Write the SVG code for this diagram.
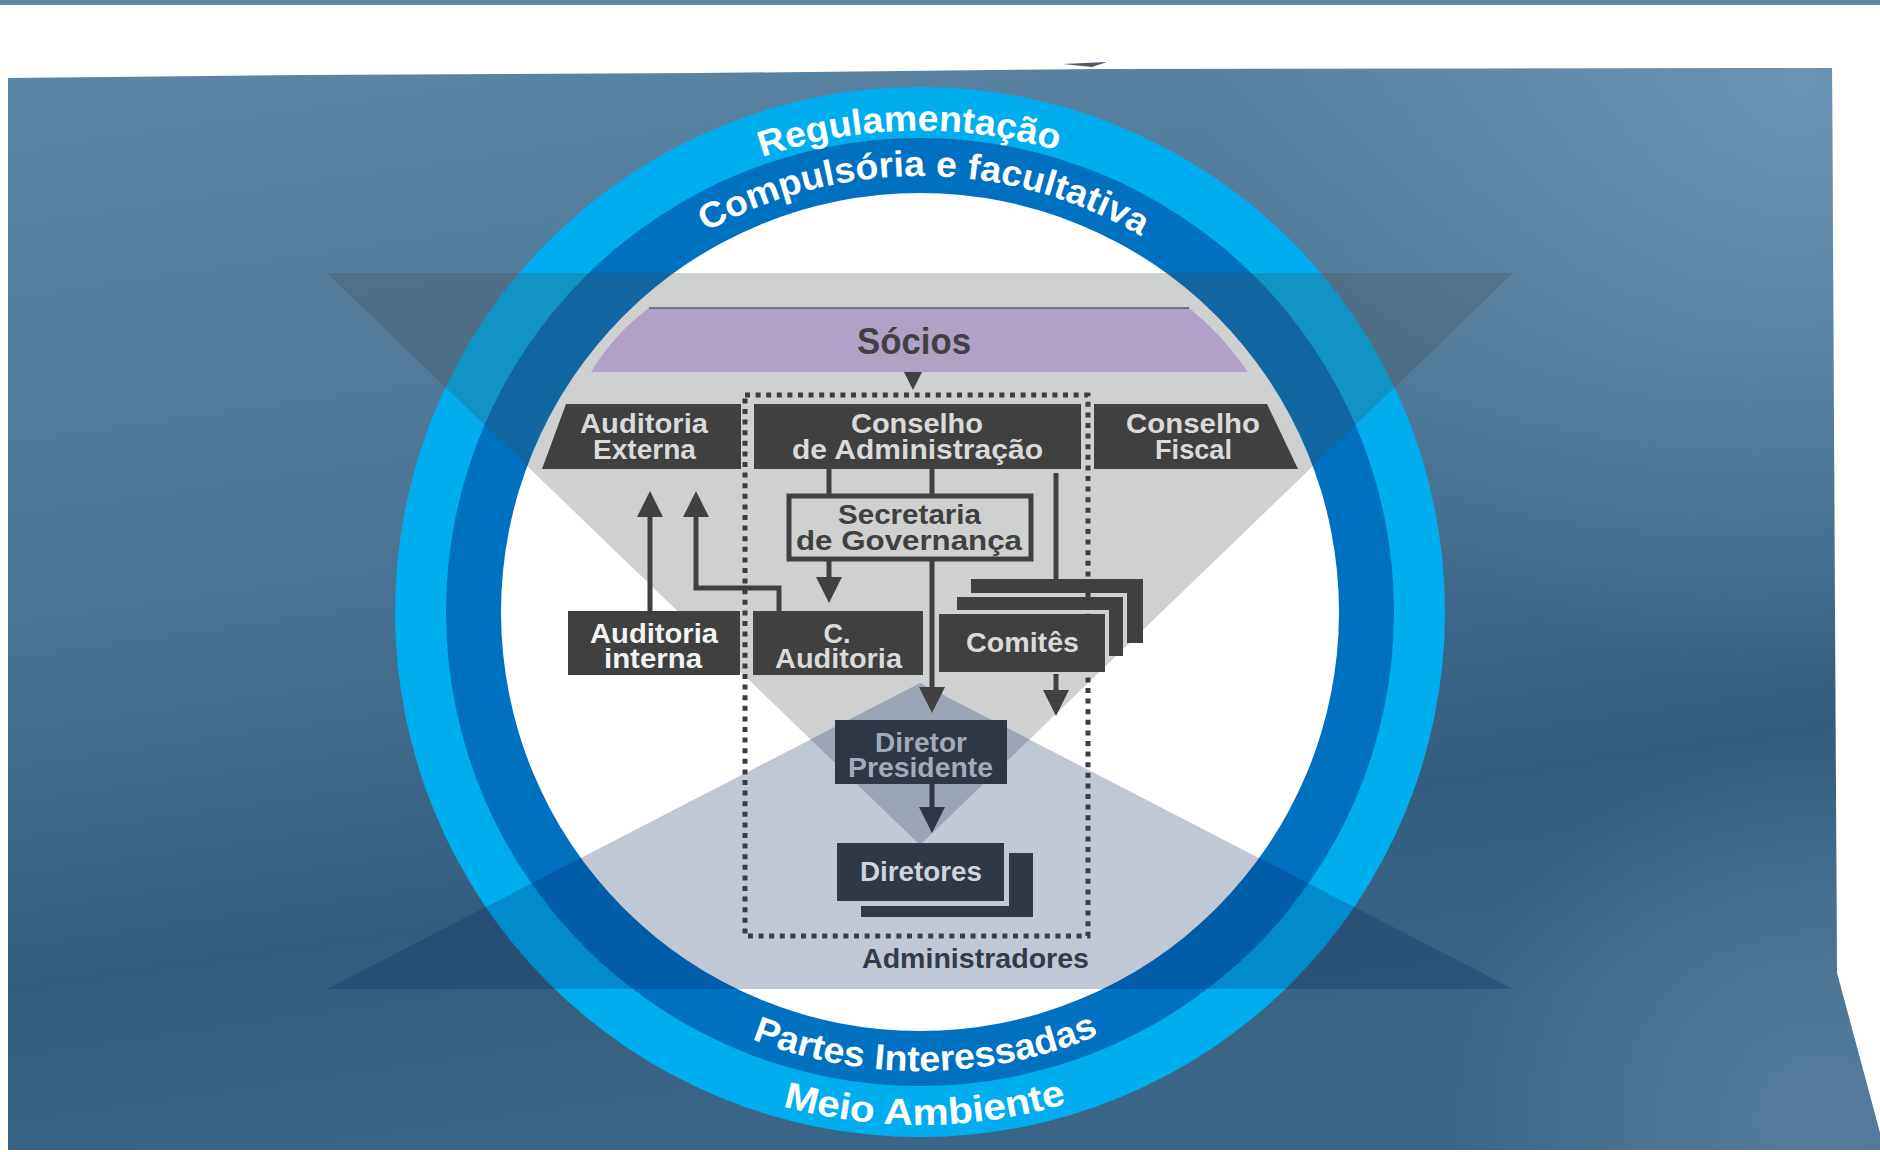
<svg xmlns="http://www.w3.org/2000/svg" width="1880" height="1152" viewBox="0 0 1880 1152">
<defs>
<style>
.t{font-family:"Liberation Sans",Arial,sans-serif;font-weight:700;text-anchor:middle}
.lt{fill:#dadada;font-size:27px}
.box{fill:#404040}
.conn{stroke:#404040;stroke-width:5;fill:none}
.ring{font-family:"Liberation Sans",Arial,sans-serif;font-weight:700;fill:#ffffff;font-size:36px}
</style>
<linearGradient id="bg" x1="0" y1="0" x2="0.25" y2="1">
<stop offset="0" stop-color="#5c85a6"/>
<stop offset="0.45" stop-color="#4c7596"/>
<stop offset="0.8" stop-color="#335d7e"/>
<stop offset="1" stop-color="#3a6586"/>
</linearGradient>
<radialGradient id="hl" cx="1800" cy="80" r="600" gradientUnits="userSpaceOnUse">
<stop offset="0" stop-color="#7aa2c2" stop-opacity="0.6"/>
<stop offset="1" stop-color="#7aa2c2" stop-opacity="0"/>
</radialGradient>
<radialGradient id="hl2" cx="1820" cy="1120" r="380" gradientUnits="userSpaceOnUse">
<stop offset="0" stop-color="#6a8eae" stop-opacity="0.6"/>
<stop offset="1" stop-color="#6a8eae" stop-opacity="0"/>
</radialGradient>
<marker id="ah" viewBox="0 0 26 26" markerWidth="26" markerHeight="26" markerUnits="userSpaceOnUse" refX="0" refY="13" orient="auto">
<path d="M0,0 L26,13 L0,26 Z" fill="#404040"/>
</marker>
<marker id="ahd" viewBox="0 0 26 26" markerWidth="26" markerHeight="26" markerUnits="userSpaceOnUse" refX="0" refY="13" orient="auto">
<path d="M0,0 L26,13 L0,26 Z" fill="#2f3745"/>
</marker>
<path id="arcReg" d="M610.2,242.8 A484,484 0 0 1 1229.8,242.8"/>
<path id="arcComp" d="M611.7,303.7 A436,436 0 0 1 1228.3,303.7"/>
<path id="arcPartes" d="M595.4,936.6 A459,459 0 0 0 1244.6,936.6"/>
<path id="arcMeio" d="M557.3,974.7 A513,513 0 0 0 1282.7,974.7"/>
</defs>

<rect x="0" y="0" width="1880" height="1152" fill="#ffffff"/>
<rect x="0" y="0" width="1880" height="5" fill="#5f88a8"/>
<g id="panel">
<path d="M8,78 L300,75 L700,73 L1100,69 L1832,68 L1837,973 L1880,1133 L1880,1150 L8,1150 Z" fill="url(#bg)"/>
<path d="M8,78 L300,75 L700,73 L1100,69 L1832,68 L1837,973 L1880,1133 L1880,1150 L8,1150 Z" fill="url(#hl)"/>
<path d="M8,78 L300,75 L700,73 L1100,69 L1832,68 L1837,973 L1880,1133 L1880,1150 L8,1150 Z" fill="url(#hl2)"/>
<path d="M1063,64 L1107,62 L1092,67 Z" fill="#4a5a6a"/>
</g>

<g id="rings">
<circle cx="920" cy="612" r="525" fill="#00aeef"/>
<circle cx="920" cy="612" r="474" fill="#0070c0"/>
<circle cx="920" cy="612" r="419" fill="#ffffff"/>
</g>

<g id="triangles">
<path d="M327,273 L1513,273 L920,845 Z" fill="#444b4b" fill-opacity="0.255"/>
<path d="M327,989 L1513,989 L920,683 Z" fill="#04245c" fill-opacity="0.25"/>
</g>

<g id="ring-texts">
<text class="ring"><textPath href="#arcReg" startOffset="48.4%" text-anchor="middle" textLength="300" lengthAdjust="spacingAndGlyphs">Regulamentação</textPath></text>
<text class="ring"><textPath href="#arcComp" startOffset="50.6%" text-anchor="middle" textLength="455" lengthAdjust="spacingAndGlyphs">Compulsória e facultativa</textPath></text>
<text class="ring"><textPath href="#arcPartes" startOffset="50.8%" text-anchor="middle" textLength="356" lengthAdjust="spacingAndGlyphs">Partes Interessadas</textPath></text>
<text class="ring" style="font-size:37px"><textPath href="#arcMeio" startOffset="50.6%" text-anchor="middle" textLength="288" lengthAdjust="spacingAndGlyphs">Meio Ambiente</textPath></text>
</g>

<g id="administradores">
<rect x="745" y="395" width="343" height="541" fill="none" stroke="#3a3d42" stroke-width="5" stroke-dasharray="5 5.6"/>
<text class="t" x="975.5" y="968" style="font-size:28px;fill:#333b47" textLength="227" lengthAdjust="spacingAndGlyphs">Administradores</text>
</g>

<g id="connectors">
<path d="M904,372 L922,372 L913,390 Z" fill="#404040"/>
<path class="conn" d="M829,469 V494"/>
<path class="conn" d="M932,469 V494"/>
<path class="conn" d="M829,561 V577" marker-end="url(#ah)"/>
<path class="conn" d="M932,561 V687" marker-end="url(#ah)"/>
<path class="conn" d="M1056,473 V579"/>
<path class="conn" d="M1056,674 V690" marker-end="url(#ah)"/>
<path class="conn" d="M650,611 V517" marker-end="url(#ah)"/>
<path class="conn" d="M779,611 V588 H696 V517" marker-end="url(#ah)"/>
<path class="conn" style="stroke:#2f3745" d="M932,784 V807" marker-end="url(#ahd)"/>
</g>

<g id="socios">
<path d="M649,308 L1189,308 Q1222,334 1248,372 L591,372 Q614,334 649,308 Z" fill="#b1a1c7"/>
<path d="M649,308 L1189,308" stroke="#5a5a5a" stroke-width="1.5"/>
<text class="t" x="914" y="354" style="font-size:37px;fill:#404040" textLength="114" lengthAdjust="spacingAndGlyphs">Sócios</text>
</g>

<g id="auditoria-externa">
<path class="box" d="M566,404 L741,404 L741,469 L542,469 Z"/>
<text class="t lt" x="644" y="433" textLength="128" lengthAdjust="spacingAndGlyphs">Auditoria</text>
<text class="t lt" x="644.5" y="459" textLength="103" lengthAdjust="spacingAndGlyphs">Externa</text>
</g>

<g id="conselho-administracao">
<rect class="box" x="754" y="404" width="327" height="65"/>
<text class="t lt" x="917" y="433" textLength="132" lengthAdjust="spacingAndGlyphs">Conselho</text>
<text class="t lt" x="917.5" y="459" textLength="251" lengthAdjust="spacingAndGlyphs">de Administração</text>
</g>

<g id="conselho-fiscal">
<path class="box" d="M1094,404 L1267,404 L1298,469 L1094,469 Z"/>
<text class="t lt" x="1193" y="433" textLength="134" lengthAdjust="spacingAndGlyphs">Conselho</text>
<text class="t lt" x="1193.5" y="459" textLength="77" lengthAdjust="spacingAndGlyphs">Fiscal</text>
</g>

<g id="secretaria">
<rect x="789" y="496" width="242" height="63" fill="none" stroke="#404040" stroke-width="5"/>
<text class="t" x="909.5" y="524" style="font-size:27px;fill:#404040" textLength="143" lengthAdjust="spacingAndGlyphs">Secretaria</text>
<text class="t" x="909" y="550" style="font-size:27px;fill:#404040" textLength="226" lengthAdjust="spacingAndGlyphs">de Governança</text>
</g>

<g id="auditoria-interna">
<rect class="box" x="568" y="611" width="172" height="64"/>
<text class="t" x="654" y="643" style="font-size:27px;fill:#f4f4f4" textLength="128" lengthAdjust="spacingAndGlyphs">Auditoria</text>
<text class="t" x="653" y="668" style="font-size:27px;fill:#f4f4f4" textLength="98" lengthAdjust="spacingAndGlyphs">interna</text>
</g>

<g id="c-auditoria">
<rect class="box" x="753" y="611" width="170" height="64"/>
<text class="t lt" x="837" y="643">C.</text>
<text class="t lt" x="838.5" y="668" textLength="127" lengthAdjust="spacingAndGlyphs">Auditoria</text>
</g>

<g id="comites">
<path class="box" d="M971,579 L1143,579 L1143,643 L1127,643 L1127,593 L971,593 Z"/>
<path class="box" d="M957,597 L1123,597 L1123,656 L1109,656 L1109,610 L957,610 Z"/>
<rect class="box" x="939" y="614" width="166" height="58"/>
<text class="t lt" x="1022.5" y="652" textLength="113" lengthAdjust="spacingAndGlyphs">Comitês</text>
</g>

<g id="diretor-presidente">
<rect x="835" y="720" width="172" height="64" fill="#2f3745"/>
<text class="t" x="921" y="752" style="font-size:27px;fill:#a3abb8" textLength="92" lengthAdjust="spacingAndGlyphs">Diretor</text>
<text class="t" x="920.5" y="777" style="font-size:27px;fill:#a3abb8" textLength="145" lengthAdjust="spacingAndGlyphs">Presidente</text>
</g>

<g id="diretores">
<path d="M1009,853 L1033,853 L1033,917 L861,917 L861,906 L1009,906 Z" fill="#303846"/>
<rect x="837" y="843" width="167" height="58" fill="#303846"/>
<text class="t" x="921" y="881" style="font-size:27px;fill:#d0d4da" textLength="122" lengthAdjust="spacingAndGlyphs">Diretores</text>
</g>
</svg>
